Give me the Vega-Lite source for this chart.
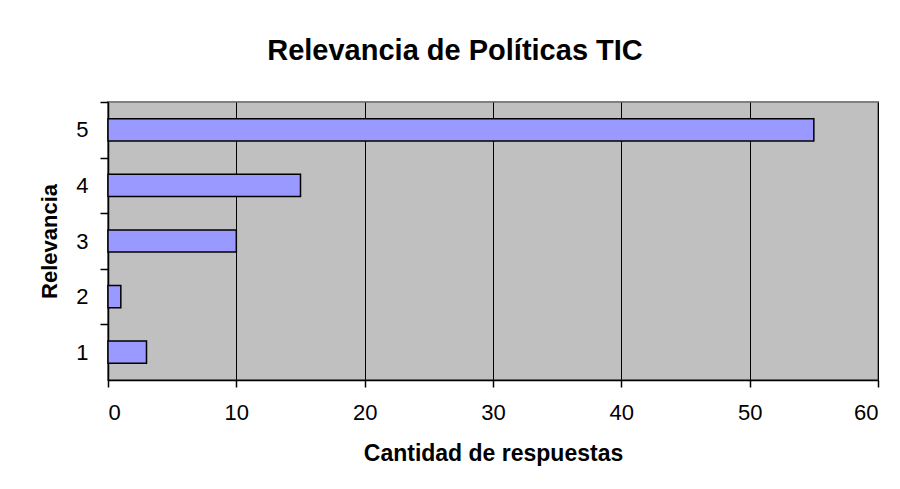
{
  "$schema": "https://vega.github.io/schema/vega-lite/v6.json",
  "width": 770,
  "height": 278,
  "autosize": {"type": "none"},
  "padding": {"left": 108, "top": 102, "right": 22, "bottom": 109},
  "background": "white",
  "title": {
    "text": "Relevancia de Políticas TIC",
    "font": "Liberation Sans",
    "fontSize": 29,
    "fontWeight": "bold",
    "color": "black",
    "anchor": "middle",
    "frame": "group",
    "dx": -38,
    "baseline": "alphabetic",
    "offset": 12
  },
  "config": {
    "view": {"fill": "#C0C0C0", "stroke": "#808080", "strokeWidth": 2},
    "font": "Liberation Sans"
  },
  "data": {
    "values": [
      {"Relevancia": "1", "Cantidad": 3},
      {"Relevancia": "2", "Cantidad": 1},
      {"Relevancia": "3", "Cantidad": 10},
      {"Relevancia": "4", "Cantidad": 15},
      {"Relevancia": "5", "Cantidad": 55}
    ]
  },
  "mark": {"type": "bar", "fill": "#9999FF", "stroke": "black", "strokeWidth": 1.5},
  "encoding": {
    "x": {
      "field": "Cantidad",
      "type": "quantitative",
      "scale": {"domain": [0, 60], "nice": false},
      "axis": {
        "title": "Cantidad de respuestas",
        "values": [0, 10, 20, 30, 40, 50, 60],
        "grid": true,
        "gridColor": "black",
        "gridOpacity": 1,
        "gridWidth": 1,
        "domainColor": "black",
        "domainWidth": 1.5,
        "tickColor": "black",
        "tickSize": 7,
        "tickWidth": 1.5,
        "labelFontSize": 22,
        "labelColor": "black",
        "labelPadding": 15,
        "labelFont": "Liberation Sans",
        "titleFont": "Liberation Sans",
        "titleFontSize": 23,
        "titleFontWeight": "bold",
        "titleColor": "black",
        "titlePadding": 19
      }
    },
    "y": {
      "field": "Relevancia",
      "type": "ordinal",
      "sort": "descending",
      "scale": {"paddingInner": 0.6, "paddingOuter": 0.3},
      "axis": {
        "title": "Relevancia",
        "labelAngle": 0,
        "tickOffset": -27.8,
        "labelOffset": 27.8,
        "domainColor": "black",
        "domainWidth": 1.5,
        "tickColor": "black",
        "tickSize": 8,
        "tickWidth": 1.5,
        "labelFontSize": 22,
        "labelColor": "black",
        "labelPadding": 12,
        "labelFont": "Liberation Sans",
        "titleFont": "Liberation Sans",
        "titleFontSize": 22,
        "titleFontWeight": "bold",
        "titleColor": "black",
        "titlePadding": 14
      }
    }
  }
}
